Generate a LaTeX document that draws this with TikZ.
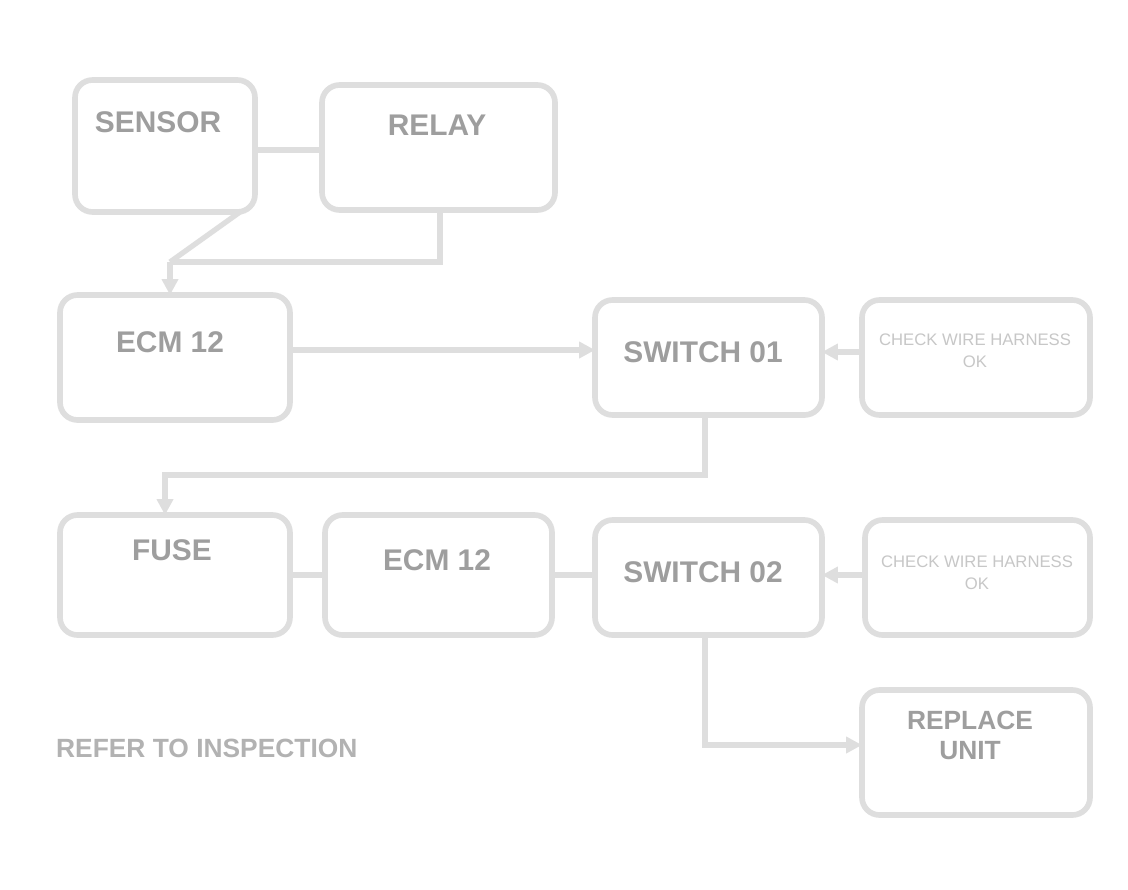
\documentclass[tikz,border=0pt]{standalone}
\usepackage{fontspec}
\setmainfont{Liberation Sans}
\usetikzlibrary{arrows.meta}
\begin{document}
\begin{tikzpicture}[x=0.02cm,y=-0.02cm,
  blk/.style={draw=black!13,line width=3.2pt,rounded corners=10pt,fill=white},
  lbl/.style={text=black!38,font=\bfseries\fontsize{17}{19}\selectfont},
  sub/.style={text=black!22,font=\fontsize{9.5}{11}\selectfont},
  wire/.style={draw=black!13,line width=3pt},
  tip/.style={-{Triangle[length=9pt,width=9pt]}}]
\useasboundingbox[fill=white] (0,0) rectangle (1128,889);
% boxes
\draw[blk] (75,80) rectangle (255,212);
\draw[blk] (322,85) rectangle (555,210);
\draw[blk] (60,295) rectangle (290,420);
\draw[blk] (595,300) rectangle (822,415);
\draw[blk] (862,300) rectangle (1090,415);
\draw[blk] (60,515) rectangle (290,635);
\draw[blk] (325,515) rectangle (552,635);
\draw[blk] (595,520) rectangle (822,635);
\draw[blk] (865,520) rectangle (1090,635);
\draw[blk] (862,690) rectangle (1090,815);
% nodes for labels
\node[lbl] (a) at (158,122) {SENSOR};
\node[lbl] (b) at (437,125) {RELAY};
\node[lbl] (c) at (170,342) {ECM 12};
\node[lbl] (d) at (703,352) {SWITCH 01};
\node[sub] (e) at (975,340) {CHECK WIRE HARNESS};
\node[sub] (e2) at (975,362) {OK};
\node[lbl] (f) at (172,550) {FUSE};
\node[lbl] (g) at (437,560) {ECM 12};
\node[lbl] (h) at (703,572) {SWITCH 02};
\node[sub] (i) at (977,562) {CHECK WIRE HARNESS};
\node[sub] (i2) at (977,584) {OK};
\node[lbl,align=center,font=\bfseries\fontsize{15}{17}\selectfont] (j) at (970,735) {REPLACE\\UNIT};
\node[text=black!30,font=\bfseries\fontsize{15}{17}\selectfont,anchor=west] (note) at (50,748) {REFER TO INSPECTION};
% coordinates for wires
\coordinate (ab1) at (255,150); \coordinate (ab2) at (322,150);
\coordinate (a1) at (240,212); \coordinate (b1) at (440,210);
\coordinate (j1) at (440,262); \coordinate (j2) at (170,262);
\coordinate (c0) at (170,295);
\coordinate (cR) at (290,350); \coordinate (dL) at (595,350);
\coordinate (dR) at (822,352); \coordinate (eL) at (862,352);
\coordinate (d0) at (705,415); \coordinate (k1) at (705,475); \coordinate (k2) at (165,475);
\coordinate (f0) at (165,515);
\coordinate (fR) at (290,575); \coordinate (gL) at (325,575);
\coordinate (gR) at (552,575); \coordinate (hL) at (595,575);
\coordinate (hR) at (822,575); \coordinate (iL) at (865,575);
\coordinate (h0) at (705,635); \coordinate (m1) at (705,745); \coordinate (jL) at (862,745);
% wires
\draw[wire] (ab1) -- (ab2);
\draw[wire] (a1) -- (j2);
\draw[wire] (b1) -- (j1) -- (j2);
\draw[wire,tip] (j2) -- (c0);
\draw[wire,tip] (cR) -- (dL);
\draw[wire,tip] (eL) -- (dR);
\draw[wire,tip] (d0) -- (k1) -- (k2) -- (f0);
\draw[wire] (fR) -- (gL);
\draw[wire] (gR) -- (hL);
\draw[wire,tip] (iL) -- (hR);
\draw[wire,tip] (h0) -- (m1) -- (jL);
\end{tikzpicture}
\end{document}
